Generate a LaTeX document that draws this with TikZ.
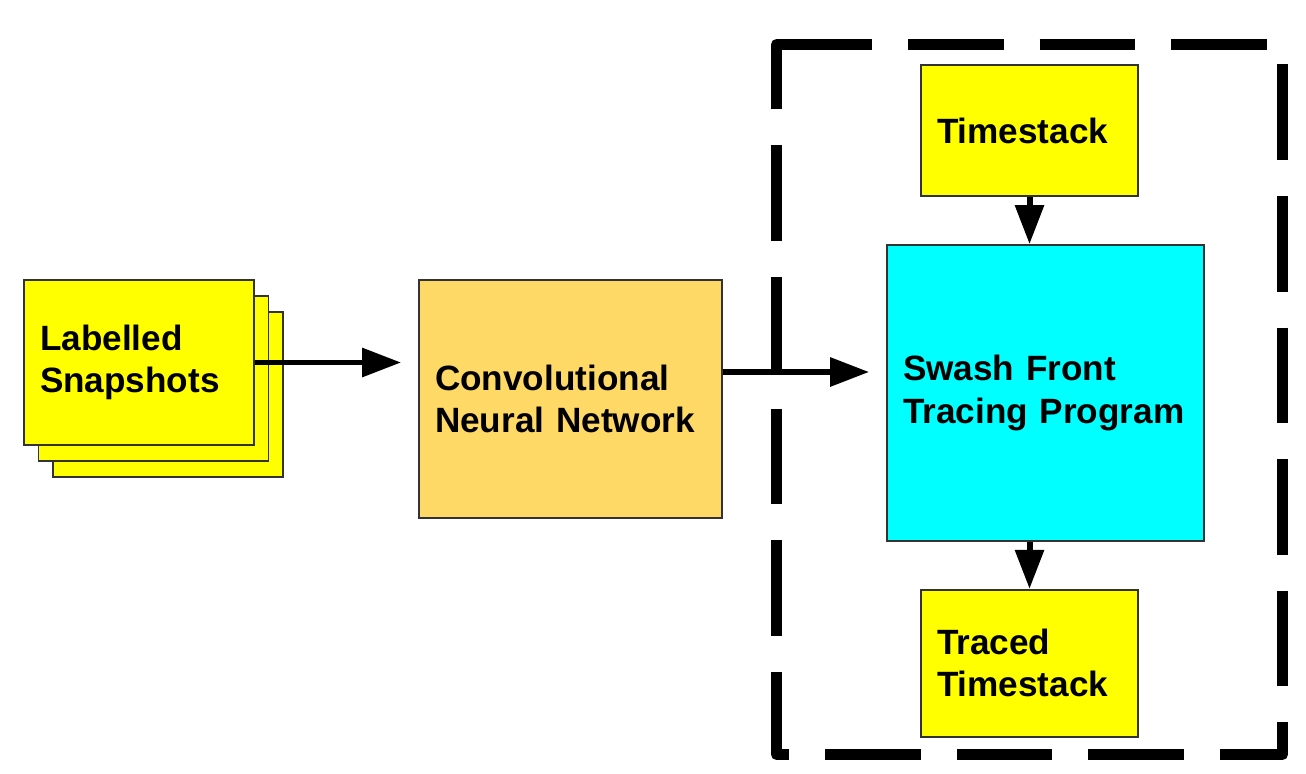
\documentclass[tikz,border=0pt]{standalone}
\usepackage{fontspec}
\setmainfont{Liberation Sans}
\usetikzlibrary{positioning,arrows.meta}

\definecolor{snapyellow}{RGB}{255,255,0}
\definecolor{cnnorange}{RGB}{255,217,102}
\definecolor{tracecyan}{RGB}{0,255,255}

\tikzset{
    block/.style={draw=black!80, line width=0.5pt, align=left,
        inner xsep=0.16cm, inner ysep=0pt,
        font=\fontsize{10}{12}\selectfont\bfseries},
    snapbox/.style={block, fill=snapyellow, text width=1.98cm, minimum height=1.65cm},
    flow/.style={line width=1.7pt, -{Triangle[length=0.39cm,width=0.28cm]}},
    dashframe/.style={line width=0.11cm, dash pattern=on 0.955cm off 0.36cm, line join=round}
}

\begin{document}
\begin{tikzpicture}
    \useasboundingbox (0,0) rectangle (13.06,7.73);

    % stack of snapshots, back copies first
    \foreach \k in {2,1}
        \node[snapbox] (snap\k) at ({1.39+0.145*\k},{4.105-0.16*\k}) {};
    \node[snapbox] (snap) at (1.39,4.105) {Labelled\\Snapshots};

    \node[block, fill=cnnorange, text width=2.71cm, minimum height=2.38cm]
        (cnn) at (5.705,3.74) {Convolutional\\Neural Network};

    % tracing program and its input / output
    \node[block, fill=tracecyan, text width=2.85cm, minimum height=2.96cm]
        (swash) at (10.455,3.80) {Swash Front\\Tracing Program};
    \node[block, fill=snapyellow, text width=1.85cm, minimum height=1.31cm,
        above=0.47cm of swash.north, anchor=south, xshift=-0.16cm] (timestack) {Timestack};
    \node[block, fill=snapyellow, text width=1.85cm, minimum height=1.47cm,
        below=0.47cm of swash.south, anchor=north, xshift=-0.16cm] (traced) {Traced\\Timestack};

    \draw[dashframe] (7.765,7.285) -- (12.825,7.285) -- (12.825,0.185)
        -- (7.765,0.185) -- (7.765,7.285) -- ++(0.06,0);

    \coordinate (cnnout) at ([yshift=0.27cm]cnn.east);
    \draw[flow, shorten >=0.17cm] (snap.east) -- (snap.east -| cnn.west);
    \draw[flow, shorten >=0.17cm] (cnnout) -- (cnnout -| swash.west);
    \draw[flow] (timestack.south) -- (timestack.south |- swash.north);
    \draw[flow] (swash.south -| traced.north) -- (traced.north);
\end{tikzpicture}
\end{document}
